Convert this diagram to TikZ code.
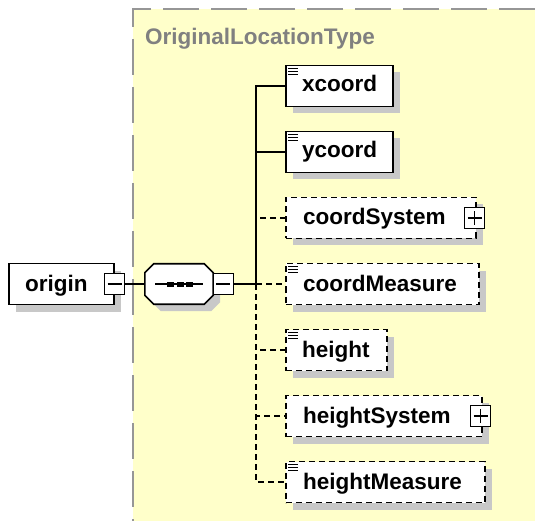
\documentclass[tikz,border=0pt]{standalone}
\usepackage{fontspec}
\setmainfont{Liberation Sans}
\usetikzlibrary{shadows}
\definecolor{bgyellow}{RGB}{255,255,202}
\definecolor{bordergray}{RGB}{150,150,150}
\definecolor{shadowc}{RGB}{200,200,200}
\definecolor{titlegray}{RGB}{128,128,128}
\begin{document}
\begin{tikzpicture}[x=1pt,y=-1pt,
  shad/.style={drop shadow={shadow xshift=7pt,shadow yshift=-7pt,fill=shadowc,opacity=1}},
  elem/.style={draw=black,line width=1.6pt,fill=white,minimum height=41pt,inner sep=0pt,anchor=west,shad},
  optelem/.style={elem,dash pattern=on 6pt off 4pt},
  lbl/.style={anchor=base west,font=\fontsize{22.5}{26}\selectfont\bfseries,inner sep=0pt},
  conn/.style={line width=1.6pt,black},
  optconn/.style={conn,dash pattern=on 6pt off 4pt},
  pmbox/.style={draw=black,line width=1.3pt,fill=white,minimum width=20pt,minimum height=21pt,inner sep=0pt},
  minusbox/.style={pmbox,path picture={\draw[line width=1.3pt]
      ([xshift=-7pt]path picture bounding box.center) -- ([xshift=7pt]path picture bounding box.center);}},
  plusbox/.style={pmbox,path picture={\draw[line width=1.3pt]
      ([xshift=-7pt]path picture bounding box.center) -- ([xshift=7pt]path picture bounding box.center)
      ([yshift=-7pt]path picture bounding box.center) -- ([yshift=7pt]path picture bounding box.center);}},
  docicon/.style={line width=1.1pt,black}
]
\useasboundingbox (0,0) rectangle (535,521);
% type area
\fill[bgyellow] (133,9) rectangle (535,521);
\draw[bordergray,line width=2pt,dash pattern=on 36pt off 12pt] (535,9) -- (133,9) -- (133,521);
\node[anchor=base west,inner sep=0pt,text=titlegray,font=\fontsize{22.5}{26}\selectfont\bfseries] (title) at (145,45) {OriginalLocationType};

% origin element
\node[elem,minimum width=105pt] (origin) at (8,284) {};
\node[lbl] (originlbl) at ([xshift=17pt,yshift=-7pt]origin.west) {origin};
\node[minusbox] (originm) at (origin.east) {};

% sequence compositor
\node[minimum width=68pt,minimum height=40pt,inner sep=0pt] (seq) at (179,284) {};
\draw[shad,fill=white,draw=black,line width=1.6pt]
  ([xshift=9pt]seq.north west) -- ([xshift=-9pt]seq.north east) -- ([yshift=-9pt]seq.north east)
  -- ([yshift=9pt]seq.south east) -- ([xshift=-9pt]seq.south east) -- ([xshift=9pt]seq.south west)
  -- ([yshift=9pt]seq.south west) -- ([yshift=-9pt]seq.north west) -- cycle;
\draw[conn] ([xshift=-24pt]seq.center) -- ([xshift=24pt]seq.center);
\foreach \dx in {-8.5,1,10.5}{
  \fill[black] ([xshift=\dx pt]seq.center) ++(-3.5,-2.5) rectangle ++(7,5);
}
\node[minusbox] (seqm) at ([xshift=10pt]seq.east) {};

% children
\node[elem,minimum width=107pt] (xcoord) at (285,86) {};
\node[elem,minimum width=107pt] (ycoord) at (285,152) {};
\node[optelem,minimum width=190pt] (csys) at (285,218) {};
\node[optelem,minimum width=193pt] (cmeas) at (285,284) {};
\node[optelem,minimum width=101pt] (height) at (285,350) {};
\node[optelem,minimum width=196pt] (hsys) at (285,416) {};
\node[optelem,minimum width=199pt] (hmeas) at (285,482) {};

\node[lbl] at ([xshift=17pt,yshift=-6pt]xcoord.west) {xcoord};
\node[lbl] at ([xshift=17pt,yshift=-6pt]ycoord.west) {ycoord};
\node[lbl] at ([xshift=18pt,yshift=-7pt]csys.west) {coordSystem};
\node[lbl] at ([xshift=18pt,yshift=-7pt]cmeas.west) {coordMeasure};
\node[lbl] at ([xshift=17pt,yshift=-7pt]height.west) {height};
\node[lbl] at ([xshift=18pt,yshift=-7pt]hsys.west) {heightSystem};
\node[lbl] at ([xshift=18pt,yshift=-7pt]hmeas.west) {heightMeasure};

\node[plusbox] (csysp) at ([xshift=-2pt]csys.east) {};
\node[plusbox] (hsysp) at ([xshift=-2pt]hsys.east) {};

% documentation icons
\foreach \n in {xcoord,ycoord,cmeas,height,hmeas}{
  \draw[docicon] ([xshift=3pt,yshift=-3.5pt]\n.north west) -- ++(10,0)
                 ([xshift=3pt,yshift=-6.5pt]\n.north west) -- ++(10,0)
                 ([xshift=3pt,yshift=-9.5pt]\n.north west) -- ++(10,0);
}

% connectors
\coordinate (trunk) at (256,284);
\draw[conn] (originm.east) -- (seq.west);
\draw[conn] (seqm.east) -- (trunk);
\draw[optconn] (trunk) |- (csys.west);
\draw[optconn] (trunk) -- (cmeas.west);
\draw[optconn] (trunk) |- (height.west);
\draw[optconn] (trunk) |- (hsys.west);
\draw[optconn] (trunk) |- (hmeas.west);
\draw[conn] (trunk) |- (xcoord.west);
\draw[conn] (trunk) |- (ycoord.west);
\end{tikzpicture}
\end{document}
